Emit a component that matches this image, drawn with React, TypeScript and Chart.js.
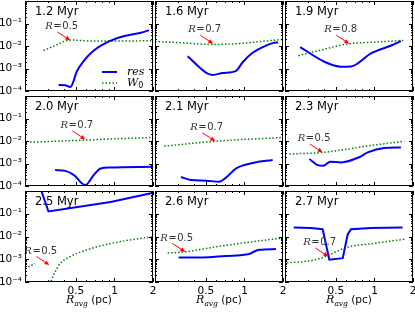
import React, { useEffect, useRef } from "react";
import { Chart, registerables } from "chart.js";
Chart.register(...registerables);

// ---- tick values / labels ----
const xTickValues = [0.5, 1, 2];
const xTickLabels = ["0.5", "1", "2"];
const xMinorTicks = [0.3, 0.4, 0.6, 0.7, 0.8, 0.9];
const yTickValues = [1e-4, 1e-3, 1e-2, 1e-1];
const yTickLabels = ["10⁻⁴", "10⁻³", "10⁻²", "10⁻¹"];

// ---- panel meta ----
const panelLabels = ["1.2 Myr", "1.6 Myr", "1.9 Myr", "2.0 Myr", "2.1 Myr", "2.3 Myr", "2.5 Myr", "2.6 Myr", "2.7 Myr"];
const rLabels = ["0.5", "0.7", "0.8", "0.7", "0.7", "0.5", "0.5", "0.5", "0.7"];
const arrowTipX = [0.452, 0.57, 0.636, 0.593, 0.592, 0.394, 0.31, 0.345, 0.436];
const arrowTipY = [1.77e-2, 1.26e-2, 1.26e-2, 1.17e-2, 9.8e-3, 3.1e-3, 5.6e-4, 2.1e-3, 1.33e-3];
const smoothRes = [true, true, true, true, true, true, false, true, false];

// ---- series: res (solid blue) and W0 (dotted green) ----
const res1X = [0.366, 0.413, 0.452, 0.511, 0.576, 0.69, 0.88, 1.12, 1.61, 1.86];
const res1Y = [1.86e-4, 1.8e-4, 1.5e-4, 7.9e-4, 2.2e-3, 6.3e-3, 1.48e-2, 2.5e-2, 3.9e-2, 5e-2];
const w01X = [0.279, 0.344, 0.452, 0.65, 0.93, 1.34, 2.0];
const w01Y = [6.3e-3, 1.05e-2, 1.86e-2, 1.68e-2, 1.68e-2, 1.68e-2, 1.72e-2];

const res2X = [0.36, 0.5, 0.565, 0.676, 0.859, 0.968, 1.125, 1.39, 1.66, 1.83];
const res2Y = [3.5e-3, 6.6e-4, 5.2e-4, 6.3e-4, 7.9e-4, 1.9e-3, 4.4e-3, 8.9e-3, 1.34e-2, 1.44e-2];
const w02X = [0.2, 0.32, 0.557, 0.94, 1.35, 2.0];
const w02Y = [1.6e-2, 1.4e-2, 1.17e-2, 1.3e-2, 1.6e-2, 1.96e-2];

const res3X = [0.263, 0.406, 0.548, 0.656, 0.94, 1.35, 1.61];
const res3Y = [8.9e-3, 2e-3, 1.2e-3, 1.23e-3, 4.7e-3, 1.05e-2, 1.65e-2];
const w03X = [0.254, 0.382, 0.618, 1.03, 1.71];
const w03Y = [3.7e-3, 6.6e-3, 1.23e-2, 1.5e-2, 1.77e-2];

const res4X = [0.344, 0.413, 0.48, 0.593, 0.69, 0.78, 0.93, 1.93];
const res4Y = [5.1e-4, 4.7e-4, 3.1e-4, 1.1e-4, 3.1e-4, 6e-4, 6.6e-4, 7.1e-4];
const w04X = [0.219, 0.6, 1.0, 2.0];
const w04Y = [8.9e-3, 1.1e-2, 1.25e-2, 1.44e-2];

const res5X = [0.319, 0.382, 0.5, 0.636, 0.718, 0.859, 1.16, 1.66];
const res5Y = [2.5e-4, 1.86e-4, 1.73e-4, 1.56e-4, 2.36e-4, 6e-4, 1.05e-3, 1.44e-3];
const w05X = [0.236, 0.6, 2.0];
const w05Y = [5.9e-3, 9.8e-3, 1.44e-2];

const res6X = [0.31, 0.36, 0.398, 0.452, 0.548, 0.76, 0.885, 1.19, 1.61];
const res6Y = [1.58e-3, 8.5e-4, 7.9e-4, 1.2e-3, 1.12e-3, 1.9e-3, 3.1e-3, 4.9e-3, 5.2e-3];
const w06X = [0.216, 0.394, 0.94, 1.71];
const w06Y = [2.65e-3, 3.1e-3, 6.3e-3, 9.8e-3];

const res7X = [0.262, 0.305, 0.933, 1.93];
const res7Y = [1.5, 0.126, 0.33, 0.8];
const w07X = [0.2, 0.24, 0.28, 0.319, 0.344, 0.377, 0.452, 0.612, 0.933, 1.61, 2.0];
const w07Y = [4e-4, 6.3e-4, null, 1.07e-4, 2.8e-4, 6.6e-4, 1.32e-3, 2.6e-3, 4.9e-3, 8.3e-3, 9.5e-3];

const res8X = [0.306, 0.472, 0.718, 1.09, 1.19, 1.31, 1.76];
const res8Y = [1.2e-3, 1.2e-3, 1.4e-3, 1.7e-3, 2.2e-3, 2.6e-3, 2.8e-3];
const w08X = [0.251, 0.339, 0.636, 1.76, 2.0];
const w08Y = [1.87e-3, 2.1e-3, 3.7e-3, 7.9e-3, 8.5e-3];

const res9X = [0.234, 0.319, 0.394, 0.444, 0.565, 0.618, 0.656, 0.94, 1.66];
const res9Y = [2.5e-2, 2.35e-2, 2.1e-2, 9.5e-4, 1.12e-3, 1.26e-2, 2.1e-2, 2.35e-2, 2.5e-2];
const w09X = [0.207, 0.283, 0.382, 0.444, 0.618, 0.94, 1.71];
const w09Y = [7.1e-4, 7.9e-4, 1.12e-3, 1.58e-3, 3.4e-3, 4.8e-3, 7.6e-3];

const resSeries = [[res1X, res1Y], [res2X, res2Y], [res3X, res3Y], [res4X, res4Y], [res5X, res5Y], [res6X, res6Y], [res7X, res7Y], [res8X, res8Y], [res9X, res9Y]];
const w0Series = [[w01X, w01Y], [w02X, w02Y], [w03X, w03Y], [w04X, w04Y], [w05X, w05Y], [w06X, w06Y], [w07X, w07Y], [w08X, w08Y], [w09X, w09Y]];

// ---- layout (page pixels) ----
const colLeft = [25, 155, 285];
const colRight = [153, 283, 413];
const rowTop = [1, 96, 191];
const rowBottom = [91, 186, 282];
const PAGE_H = 312;

const BLUE = "#0000ff";
const GREEN = "#008000";
const RED = "#ff0000";
const SANS = '"DejaVu Sans", sans-serif';
const SERIF = '"DejaVu Serif", serif';

const toPts = (xs: number[], ys: (number | null)[]) => xs.map((x, i) => ({ x, y: ys[i] }));

function makeDeco(idx: number, row: number, col: number) {
  return {
    id: "deco" + idx,
    afterDraw(chart: any) {
      const { ctx, chartArea: a, scales } = chart;
      const xs = scales.x;
      const ys = scales.y;
      ctx.save();
      // frame
      ctx.strokeStyle = "#000";
      ctx.lineWidth = 1;
      ctx.strokeRect(a.left + 0.5, a.top + 0.5, a.right - a.left - 1, a.bottom - a.top - 1);
      // y ticks (inward, both sides)
      ctx.beginPath();
      for (let d = -4; d <= 0; d++) {
        const base = Math.pow(10, d);
        for (let k = 1; k <= 9; k++) {
          const v = base * k;
          if (v > 1.0001) break;
          const py = Math.round(ys.getPixelForValue(v)) + 0.5;
          const len = k === 1 ? 4 : 2;
          ctx.moveTo(a.left, py);
          ctx.lineTo(a.left + len, py);
          ctx.moveTo(a.right, py);
          ctx.lineTo(a.right - len, py);
        }
      }
      // x ticks
      const allX = [...xTickValues.map((v) => [v, 4]), ...xMinorTicks.map((v) => [v, 2])];
      for (const [v, len] of allX) {
        const px = Math.round(xs.getPixelForValue(v)) + 0.5;
        ctx.moveTo(px, a.bottom);
        ctx.lineTo(px, a.bottom - len);
        ctx.moveTo(px, a.top);
        ctx.lineTo(px, a.top + len);
      }
      ctx.stroke();

      // panel label
      ctx.fillStyle = "#000";
      ctx.font = "11.5px " + SANS;
      ctx.textBaseline = "alphabetic";
      ctx.textAlign = "left";
      ctx.fillText(panelLabels[idx], a.left + 10, a.top + 14);

      // arrow annotation
      const tx = xs.getPixelForValue(arrowTipX[idx]);
      const ty = ys.getPixelForValue(arrowTipY[idx]);
      const sx = tx - 13;
      const sy = ty - 8.5;
      ctx.strokeStyle = RED;
      ctx.fillStyle = RED;
      ctx.lineWidth = 1;
      const ang = Math.atan2(ty - sy, tx - sx);
      const hl = 5;
      const hw = 2.2;
      const bx = tx - hl * Math.cos(ang);
      const by = ty - hl * Math.sin(ang);
      ctx.beginPath();
      ctx.moveTo(sx, sy);
      ctx.lineTo(bx, by);
      ctx.stroke();
      ctx.beginPath();
      ctx.moveTo(tx, ty);
      ctx.lineTo(bx + hw * Math.sin(ang), by - hw * Math.cos(ang));
      ctx.lineTo(bx - hw * Math.sin(ang), by + hw * Math.cos(ang));
      ctx.closePath();
      ctx.fill();

      let xx = tx - 25;
      const yy = ty - 14;
      ctx.fillStyle = "#333";
      ctx.textBaseline = "middle";
      ctx.font = "italic 10px " + SERIF;
      ctx.fillText("R", xx, yy);
      xx += ctx.measureText("R").width + 0.5;
      ctx.font = "10px " + SANS;
      ctx.fillText("=", xx, yy);
      xx += ctx.measureText("=").width + 0.5;
      ctx.fillText(rLabels[idx], xx, yy);

      // legend (first panel)
      if (idx === 0) {
        const lx0 = a.left + 77;
        const lx1 = a.left + 92;
        const ly1 = a.top + 71;
        const ly2 = a.top + 82;
        ctx.lineWidth = 2;
        ctx.strokeStyle = BLUE;
        ctx.beginPath();
        ctx.moveTo(lx0, ly1);
        ctx.lineTo(lx1, ly1);
        ctx.stroke();
        ctx.lineWidth = 1.5;
        ctx.strokeStyle = GREEN;
        ctx.setLineDash([1.5, 2]);
        ctx.beginPath();
        ctx.moveTo(lx0, ly2);
        ctx.lineTo(lx1, ly2);
        ctx.stroke();
        ctx.setLineDash([]);
        ctx.fillStyle = "#000";
        ctx.textBaseline = "middle";
        ctx.font = "italic 11px " + SERIF;
        ctx.fillText("res", a.left + 102, ly1);
        ctx.fillText("W", a.left + 102, ly2);
        const ww = ctx.measureText("W").width;
        ctx.font = "8px " + SANS;
        ctx.fillText("0", a.left + 102 + ww, ly2 + 3);
      }

      // x axis title (bottom row)
      if (row === 2) {
        const cx = (a.left + a.right) / 2;
        const base = a.bottom + 21;
        ctx.fillStyle = "#000";
        ctx.textBaseline = "alphabetic";
        ctx.font = "italic 11px " + SERIF;
        const wR = ctx.measureText("R").width;
        ctx.font = "italic 7.5px " + SERIF;
        const wSub = ctx.measureText("avg").width;
        ctx.font = "10.5px " + SANS;
        const wPc = ctx.measureText(" (pc)").width;
        let px = cx - (wR + wSub + wPc) / 2;
        ctx.font = "italic 11px " + SERIF;
        ctx.fillText("R", px, base);
        px += wR;
        ctx.font = "italic 7.5px " + SERIF;
        ctx.fillText("avg", px, base + 2.5);
        px += wSub;
        ctx.font = "10.5px " + SANS;
        ctx.fillText(" (pc)", px, base);
      }
      ctx.restore();
    },
  };
}

function Panel({ idx }: { idx: number }) {
  const ref = useRef<HTMLCanvasElement>(null);
  const row = Math.floor(idx / 3);
  const col = idx % 3;
  const padR = 6;
  const padB = row === 2 ? 0 : 5;
  const yAxisW = col === 0 ? 25 : 0;
  const xAxisH = row === 2 ? PAGE_H - rowBottom[2] : 0;
  const left = colLeft[col] - yAxisW;
  const top = rowTop[row];
  const width = colRight[col] + padR - left;
  const height = (row === 2 ? PAGE_H : rowBottom[row] + padB) - top;

  useEffect(() => {
    const canvas = ref.current;
    if (!canvas) return;
    const [rx, ry] = resSeries[idx];
    const [gx, gy] = w0Series[idx];
    const chart = new Chart(canvas, {
      type: "scatter",
      data: {
        datasets: [
          {
            label: "res",
            data: toPts(rx as number[], ry as number[]),
            showLine: true,
            borderColor: BLUE,
            backgroundColor: BLUE,
            borderWidth: 2,
            pointRadius: 0,
            cubicInterpolationMode: smoothRes[idx] ? "monotone" : "default",
            tension: 0,
            spanGaps: false,
          },
          {
            label: "W0",
            data: toPts(gx as number[], gy as (number | null)[]),
            showLine: true,
            borderColor: GREEN,
            backgroundColor: GREEN,
            borderWidth: 1.5,
            borderDash: [1.5, 2],
            pointRadius: 0,
            cubicInterpolationMode: "monotone",
            tension: 0,
            spanGaps: false,
          },
        ],
      },
      options: {
        responsive: false,
        animation: false,
        devicePixelRatio: 1,
        events: [],
        layout: { padding: { left: 0, right: padR, top: 0, bottom: padB } },
        plugins: { legend: { display: false }, tooltip: { enabled: false }, title: { display: false } },
        scales: {
          x: {
            type: "logarithmic",
            min: 0.2,
            max: 2,
            display: row === 2,
            grid: { display: false, drawTicks: false },
            border: { display: false },
            ticks: {
              autoSkip: false,
              maxRotation: 0,
              minRotation: 0,
              padding: 3,
              color: "#000",
              font: { family: SANS, size: 10.5 },
              callback: (_v: any, i: number) => xTickLabels[i],
            },
            afterBuildTicks: (s: any) => {
              s.ticks = xTickValues.map((v) => ({ value: v }));
            },
            afterFit: (s: any) => {
              s.height = xAxisH;
              s.paddingLeft = 0;
              s.paddingRight = 0;
            },
          },
          y: {
            type: "logarithmic",
            min: 1e-4,
            max: 1,
            display: col === 0,
            grid: { display: false, drawTicks: false },
            border: { display: false },
            ticks: {
              autoSkip: false,
              padding: 3,
              color: "#000",
              font: { family: SANS, size: 10.5 },
              callback: (_v: any, i: number) => yTickLabels[i],
            },
            afterBuildTicks: (s: any) => {
              s.ticks = yTickValues.map((v) => ({ value: v }));
            },
            afterFit: (s: any) => {
              s.width = yAxisW;
              s.paddingTop = 0;
              s.paddingBottom = 0;
            },
          },
        },
      },
      plugins: [makeDeco(idx, row, col)],
    } as any);
    return () => chart.destroy();
  }, [idx]);

  return (
    <canvas
      ref={ref}
      width={width}
      height={height}
      style={{ position: "absolute", left, top, width, height }}
    />
  );
}

export default function App() {
  return (
    <div style={{ position: "absolute", left: 0, top: 0, width: 415, height: 312, background: "#fff", overflow: "hidden" }}>
      {panelLabels.map((_, i) => (
        <Panel key={i} idx={i} />
      ))}
    </div>
  );
}
